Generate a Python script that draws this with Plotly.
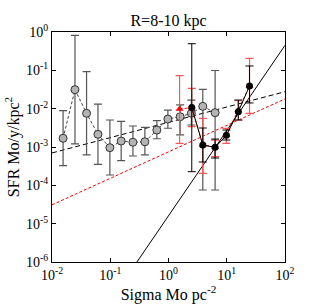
import plotly.graph_objects as go

# Grey circles (dashed connector)
grey_x = [0.0155, 0.0248, 0.0392, 0.0615, 0.0986, 0.154, 0.245, 0.393, 0.631, 0.975, 1.585, 2.47, 3.88, 6.31]
grey_y = [1.69e-3, 0.0313, 7.57e-3, 2.14e-3, 9.6e-4, 1.43e-3, 1.33e-3, 1.37e-3, 2.77e-3, 5.37e-3, 6.17e-3, 7.57e-3, 0.0115, 7.85e-3]
grey_hi = [8.85e-3, 0.82, 0.092, 0.0132, 5.06e-3, 4.68e-3, 3.53e-3, 3.27e-3, 4.85e-3, 9.2e-3, 0.0125, 0.0168, 0.032, 0.099]
grey_lo = [3.25e-4, 1.2e-3, 6.2e-4, 3.53e-4, 1.86e-4, 4.39e-4, 5.82e-4, 6.2e-4, 1.64e-3, 3.08e-3, 2.06e-3, 3.75e-3, 7.55e-5, 7.55e-5]

# Black filled points (solid connector)
blk_x = [2.51, 3.88, 6.31, 9.84, 15.8, 24.6]
blk_y = [0.0107, 1.13e-3, 9.8e-4, 2.02e-3, 8.33e-3, 0.039]
blk_hi = [0.495, 3.13e-3, 1.61e-3, 2.77e-3, 0.0168, 0.13]
blk_lo = [2.27e-4, 4.06e-4, 5.16e-4, 1.52e-3, 5.06e-3, 0.0141]

# Red triangles
red_x = [1.55, 2.51, 3.88, 6.31, 9.84, 15.8, 24.6]
red_y = [9.8e-3, 0.0107, 1.13e-3, 9.8e-4, 2.02e-3, 8.9e-3, 0.039]
red_hi = [0.0724, 0.034, 5.6e-3, 1.52e-3, 3.07e-3, 0.0161, 0.206]
red_lo = [1.25e-3, 3.38e-3, 2.06e-4, 5.58e-4, 1.25e-3, 5.06e-3, 7.57e-3]

# Reference power-law lines (endpoints)
fit_black_x = [0.01, 100]
fit_black_y = [7.0e-4, 0.0277]
fit_red_x = [0.01, 100]
fit_red_y = [3.1e-5, 0.018]
ks_x = [0.287, 100]
ks_y = [1e-6, 0.449]

xtick_vals = [0.01, 0.1, 1, 10, 100]
xtick_text = ["10<sup>-2</sup>", "10<sup>-1</sup>", "10<sup>0</sup>", "10<sup>1</sup>", "10<sup>2</sup>"]
ytick_vals = [1e-6, 1e-5, 1e-4, 1e-3, 1e-2, 1e-1, 1]
ytick_text = ["10<sup>-6</sup>", "10<sup>-5</sup>", "10<sup>-4</sup>", "10<sup>-3</sup>",
              "10<sup>-2</sup>", "10<sup>-1</sup>", "10<sup>0</sup>"]


def err(y, hi, lo):
    return [h - v for v, h in zip(y, hi)], [v - l for v, l in zip(y, lo)]


fig = go.Figure()

fig.add_trace(go.Scatter(x=fit_black_x, y=fit_black_y, mode="lines",
                         line=dict(color="black", width=1, dash="5px,3px"), showlegend=False))
fig.add_trace(go.Scatter(x=fit_red_x, y=fit_red_y, mode="lines",
                         line=dict(color="red", width=1, dash="3px,2px"), showlegend=False))
fig.add_trace(go.Scatter(x=ks_x, y=ks_y, mode="lines",
                         line=dict(color="black", width=1), showlegend=False))

gp, gm = err(grey_y, grey_hi, grey_lo)
fig.add_trace(go.Scatter(x=grey_x, y=grey_y, mode="lines+markers",
                         line=dict(color="#444444", width=1, dash="3px,2px"),
                         marker=dict(size=8, color="#b4b4b4", line=dict(color="#333333", width=1)),
                         error_y=dict(type="data", array=gp, arrayminus=gm, color="#555555",
                                      thickness=1.2, width=4),
                         showlegend=False))

rp, rm = err(red_y, red_hi, red_lo)
fig.add_trace(go.Scatter(x=red_x, y=red_y, mode="lines+markers",
                         line=dict(color="red", width=1, dash="3px,2px"),
                         marker=dict(size=7, color="red", symbol="triangle-up"),
                         error_y=dict(type="data", array=rp, arrayminus=rm, color="#ff5555",
                                      thickness=1.2, width=4),
                         showlegend=False))

bp, bm = err(blk_y, blk_hi, blk_lo)
fig.add_trace(go.Scatter(x=blk_x, y=blk_y, mode="lines+markers",
                         line=dict(color="black", width=1),
                         marker=dict(size=7, color="black"),
                         error_y=dict(type="data", array=bp, arrayminus=bm, color="black",
                                      thickness=1, width=4),
                         showlegend=False))

axis_common = dict(type="log", showgrid=False, zeroline=False, showline=True, linecolor="black",
                   linewidth=1, mirror="ticks", ticks="inside", ticklen=4, tickcolor="black",
                   automargin=False,
                   tickfont=dict(family="Liberation Serif", size=14, color="black"))

fig.update_xaxes(range=[-2, 2], tickvals=xtick_vals, ticktext=xtick_text,
                 title=dict(text="Sigma Mo pc<sup>-2</sup>", standoff=4,
                            font=dict(family="Liberation Serif", size=16, color="black")),
                 **axis_common)
fig.update_yaxes(range=[-6, 0], tickvals=ytick_vals, ticktext=ytick_text,
                 title=dict(text="SFR Mo/y/kpc<sup>2</sup>", standoff=2,
                            font=dict(family="Liberation Serif", size=16, color="black")),
                 **axis_common)

fig.update_layout(
    width=327, height=307,
    margin=dict(l=52, r=42, t=32, b=45),
    paper_bgcolor="white", plot_bgcolor="white",
    title=dict(text="R=8-10 kpc", x=0.5, xanchor="center", xref="paper", y=0.935, yanchor="middle",
               font=dict(family="Liberation Serif", size=16, color="black")),
)

fig.write_html("out.html", config={"displayModeBar": False},
               post_script="document.body.style.margin='0';document.body.style.overflow='hidden';")
